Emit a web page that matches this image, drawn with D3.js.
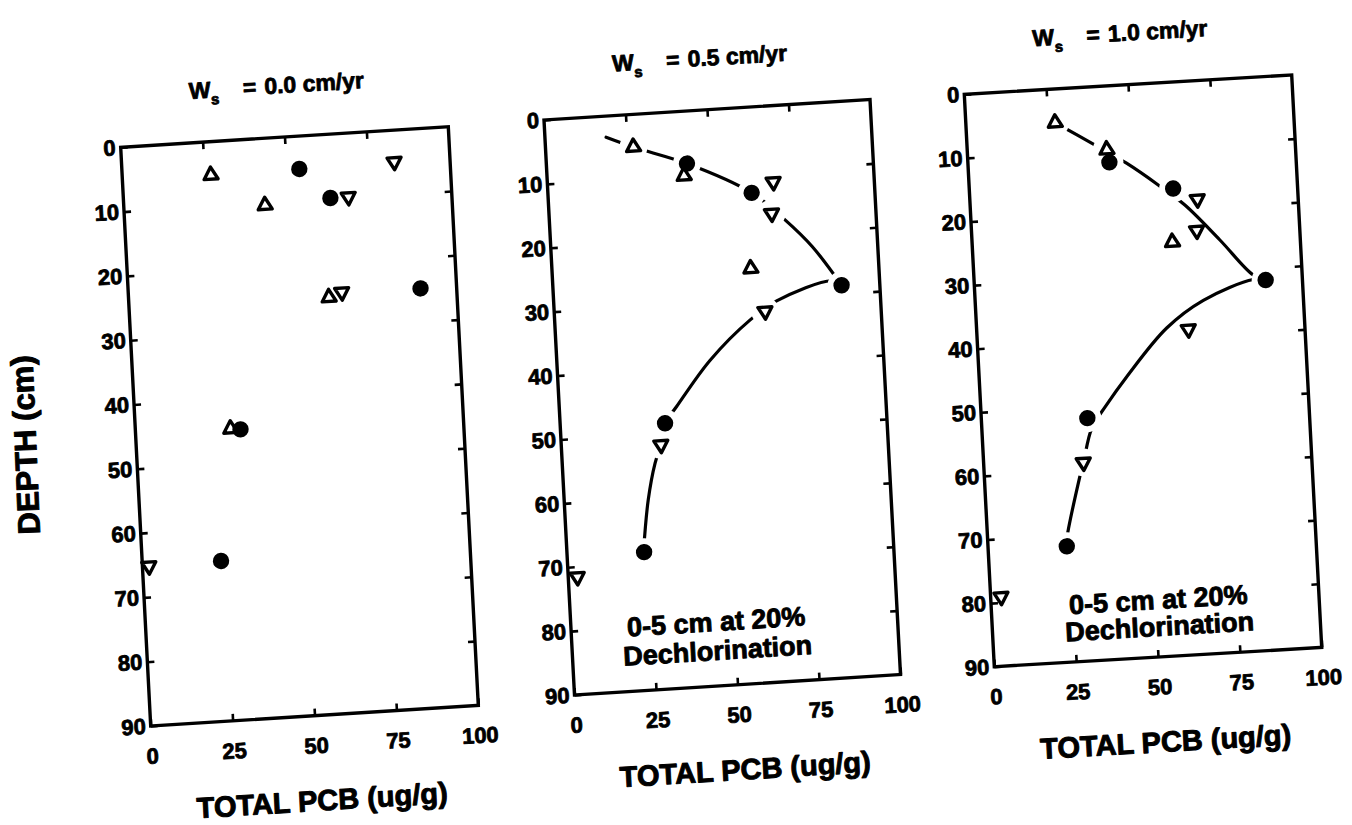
<!DOCTYPE html>
<html>
<head>
<meta charset="utf-8">
<script src="https://cdn.jsdelivr.net/npm/d3@7"></script>
<style>
  body { margin: 0; background: #fff; }
  svg { display: block; background: #fff; }
  text { font-family: "Liberation Sans", Arial, Helvetica, sans-serif; font-weight: 700; fill: #000;
         stroke: #000; stroke-linejoin: round; }
</style>
</head>
<body>
<svg id="chart" width="1352" height="825"></svg>
<script>
// Total PCB depth profiles for three sedimentation rates (Ws)

const depthTicks = [0, 10, 20, 30, 40, 50, 60, 70, 80, 90];
const sideDepthTicks = [10, 20, 30, 40, 50, 60, 70, 80];
const pcbTicks = [0, 25, 50, 75, 100];
const innerPcbTicks = [25, 50, 75];
const rateLabels = ["0.0 cm/yr", "0.5 cm/yr", "1.0 cm/yr"];
const xTitle = "TOTAL PCB (ug/g)";
const yTitle = "DEPTH (cm)";
const noteLines = ["0-5 cm at 20%", "Dechlorination"];

// Ws = 0.0 cm/yr  — [total PCB, depth]
const circles0 = [[54, 5.1], [63, 9.9], [89, 24.8], [32, 44.9], [24, 65.1]];
const triUp0 = [[27, 5.2], [43, 10.4], [61, 25.3], [29, 44.7]];
const triDown0 = [[83, 4.9], [68.5, 9.9], [65, 24.6], [2, 65.2]];

// Ws = 0.5 cm/yr
const circles1 = [[43, 8.2], [62.3, 13.4], [88.3, 28.7], [32.1, 48.5], [23.6, 68.4]];
const triUp1 = [[26.9, 5.1], [41.9, 10.1], [60.8, 25.2]];
const triDown1 = [[69.1, 11.9], [68.1, 16.8], [64.5, 32.0], [30.5, 51.8], [2.8, 71.6]];
const upper1 = [[18.7, 3.3], [26.9, 5.1], [43, 8.2], [62.3, 13.4], [72, 17.9], [80, 22.4], [88.3, 28.7]];
const lower1 = [[88.3, 28.7], [85.4, 27.9], [68.2, 30.5], [59.8, 33.2], [46.9, 39.1], [35.9, 46], [32.1, 48.5],
                [30.5, 51.8], [28.4, 54.6], [25.7, 60.3], [23.4, 68.4]];

// Ws = 1.0 cm/yr
const circles2 = [[43.1, 12], [62.1, 16.7], [88.8, 31.9], [32.3, 51.9], [24, 71.8]];
const triUp2 = [[27.2, 5.3], [42.5, 10], [61, 25.1]];
const triDown2 = [[69.3, 18.6], [68.6, 23.5], [64.5, 38.9], [30.4, 58.8], [3.2, 79.1]];
const upper2 = [[27.2, 5.3], [38.5, 9], [48.3, 12.3], [57.6, 16], [65.4, 19.4], [75.5, 25.2], [85.1, 31], [88.8, 31.9]];
const lower2 = [[88.8, 31.9], [85, 31.7], [69.5, 34.5], [57.9, 38.5], [44.9, 45.8], [37.9, 50.3], [33.5, 53.5],
                [30.4, 58.8], [28.9, 61.3], [24.1, 70.7], [24, 71.8]];

// Page placement of each frame: top-left corner and the page vectors of its top and left edges
const panels = [
  { rate: rateLabels[0], circles: circles0, triUp: triUp0, triDown: triDown0, curves: [],
    tl: [120.7, 147.3], xv: [327.6, -20.6], yv: [30, 578.7], note: null },
  { rate: rateLabels[1], circles: circles1, triUp: triUp1, triDown: triDown1, curves: [upper1, lower1],
    tl: [544, 120], xv: [326, -20.5], yv: [30.5, 575], note: { fx: 0.445, b1: -55, b2: -26 } },
  { rate: rateLabels[2], circles: circles2, triUp: triUp2, triDown: triDown2, curves: [upper2, lower2],
    tl: [964.3, 94.3], xv: [327.4, -19.3], yv: [30, 572.4], note: { fx: 0.51, b1: -48, b2: -21 } }
];

const svg = d3.select("#chart");
const font = '"Liberation Sans", Arial, Helvetica, sans-serif';

panels.forEach(p => {
  const W = Math.hypot(p.xv[0], p.xv[1]);
  const H = Math.hypot(p.yv[0], p.yv[1]);
  const g = svg.append("g")
    .attr("transform", `matrix(${p.xv[0] / W},${p.xv[1] / W},${p.yv[0] / H},${p.yv[1] / H},${p.tl[0]},${p.tl[1]})`);

  const x = d3.scaleLinear().domain([0, 100]).range([0, W]);
  const y = d3.scaleLinear().domain([0, 90]).range([0, H]);

  // fitted profile curves
  const line = d3.line().x(d => x(d[0])).y(d => y(d[1])).curve(d3.curveCatmullRom.alpha(0.5));
  const paths = p.curves.map(c => g.append("path")
    .attr("d", line(c))
    .attr("fill", "none")
    .attr("stroke", "#000")
    .attr("stroke-width", 3.2)
    .attr("stroke-linecap", "round")
    .node());

  function distToCurves(px, py) {
    let m = Infinity;
    paths.forEach(el => {
      const L = el.getTotalLength();
      for (let s = 0; s <= L; s += 1.5) {
        const pt = el.getPointAtLength(s);
        m = Math.min(m, Math.hypot(pt.x - px, pt.y - py));
      }
    });
    return m;
  }

  // white break in the curve around each plotted point lying on it
  const haloG = g.append("g").attr("fill", "#fff");
  if (paths.length) {
    p.circles.forEach(d => haloG.append("circle").attr("cx", x(d[0])).attr("cy", y(d[1])).attr("r", 14));
    p.triUp.concat(p.triDown).forEach(d => {
      if (distToCurves(x(d[0]), y(d[1])) < 6) {
        haloG.append("circle").attr("cx", x(d[0])).attr("cy", y(d[1])).attr("r", 14);
      }
    });
  }

  // frame
  g.append("rect")
    .attr("width", W).attr("height", H)
    .attr("fill", "none").attr("stroke", "#000").attr("stroke-width", 3.4);

  const tick = 7;
  const styleAxis = (sel, size) => {
    sel.select(".domain").remove();
    sel.selectAll(".tick line").attr("stroke", "#000").attr("stroke-width", 2.6);
    sel.selectAll("text")
      .style("font-family", font).style("font-weight", "700")
      .style("font-size", size + "px").style("stroke-width", "0.8px").attr("fill", "#000");
  };

  g.append("g")
    .call(d3.axisLeft(y).tickValues(depthTicks).tickSize(-tick).tickPadding(5).tickFormat(d3.format("d")))
    .call(s => styleAxis(s, 22));
  g.append("g").attr("transform", `translate(${W},0)`)
    .call(d3.axisRight(y).tickValues(sideDepthTicks).tickSize(-tick).tickFormat(""))
    .call(s => styleAxis(s, 22));
  g.append("g").attr("transform", `translate(0,${H})`)
    .call(d3.axisBottom(x).tickValues(pcbTicks).tickSize(-tick).tickPadding(22).tickFormat(d3.format("d")))
    .call(s => styleAxis(s, 22));
  g.append("g")
    .call(d3.axisTop(x).tickValues(innerPcbTicks).tickSize(-tick).tickFormat(""))
    .call(s => styleAxis(s, 22));

  // data points
  const sym = d3.symbol().type(d3.symbolTriangle).size(85);
  g.append("g").selectAll("path.up").data(p.triUp).join("path")
    .attr("class", "up")
    .attr("d", sym)
    .attr("transform", d => `translate(${x(d[0])},${y(d[1])})`)
    .attr("fill", "#fff").attr("stroke", "#000").attr("stroke-width", 3.4).attr("stroke-linejoin", "round");
  g.append("g").selectAll("path.down").data(p.triDown).join("path")
    .attr("class", "down")
    .attr("d", sym)
    .attr("transform", d => `translate(${x(d[0])},${y(d[1])}) rotate(180)`)
    .attr("fill", "#fff").attr("stroke", "#000").attr("stroke-width", 3.4).attr("stroke-linejoin", "round");
  g.append("g").selectAll("circle").data(p.circles).join("circle")
    .attr("cx", d => x(d[0])).attr("cy", d => y(d[1])).attr("r", 8.2)
    .attr("fill", "#000");

  // panel heading: Ws = rate
  const t = g.append("text").attr("x", 71).attr("y", -44)
    .style("font-size", "23px").style("stroke-width", "0.8px");
  t.append("tspan").text("W");
  t.append("tspan").attr("dy", 7).style("font-size", "15px").text("s");
  t.append("tspan").attr("dy", -7).attr("dx", 24).text("=");
  t.append("tspan").attr("dx", 8).text(p.rate);

  // axis title
  g.append("text")
    .attr("x", W * 0.51).attr("y", H + 95)
    .attr("text-anchor", "middle")
    .style("font-size", "29px").style("stroke-width", "1px")
    .text(xTitle);

  // annotation
  if (p.note) {
    [0, 1].forEach(i => g.append("text")
      .attr("x", W * p.note.fx).attr("y", H + (i ? p.note.b2 : p.note.b1))
      .attr("text-anchor", "middle")
      .style("font-size", "27px").style("stroke-width", "0.9px")
      .text(noteLines[i]));
  }
});

// shared depth title
svg.append("text")
  .attr("transform", "translate(25,445) rotate(-92.5)")
  .attr("text-anchor", "middle")
  .attr("dy", "0.36em")
  .style("font-size", "31px").style("stroke-width", "1px")
  .text(yTitle);
</script>
</body>
</html>
